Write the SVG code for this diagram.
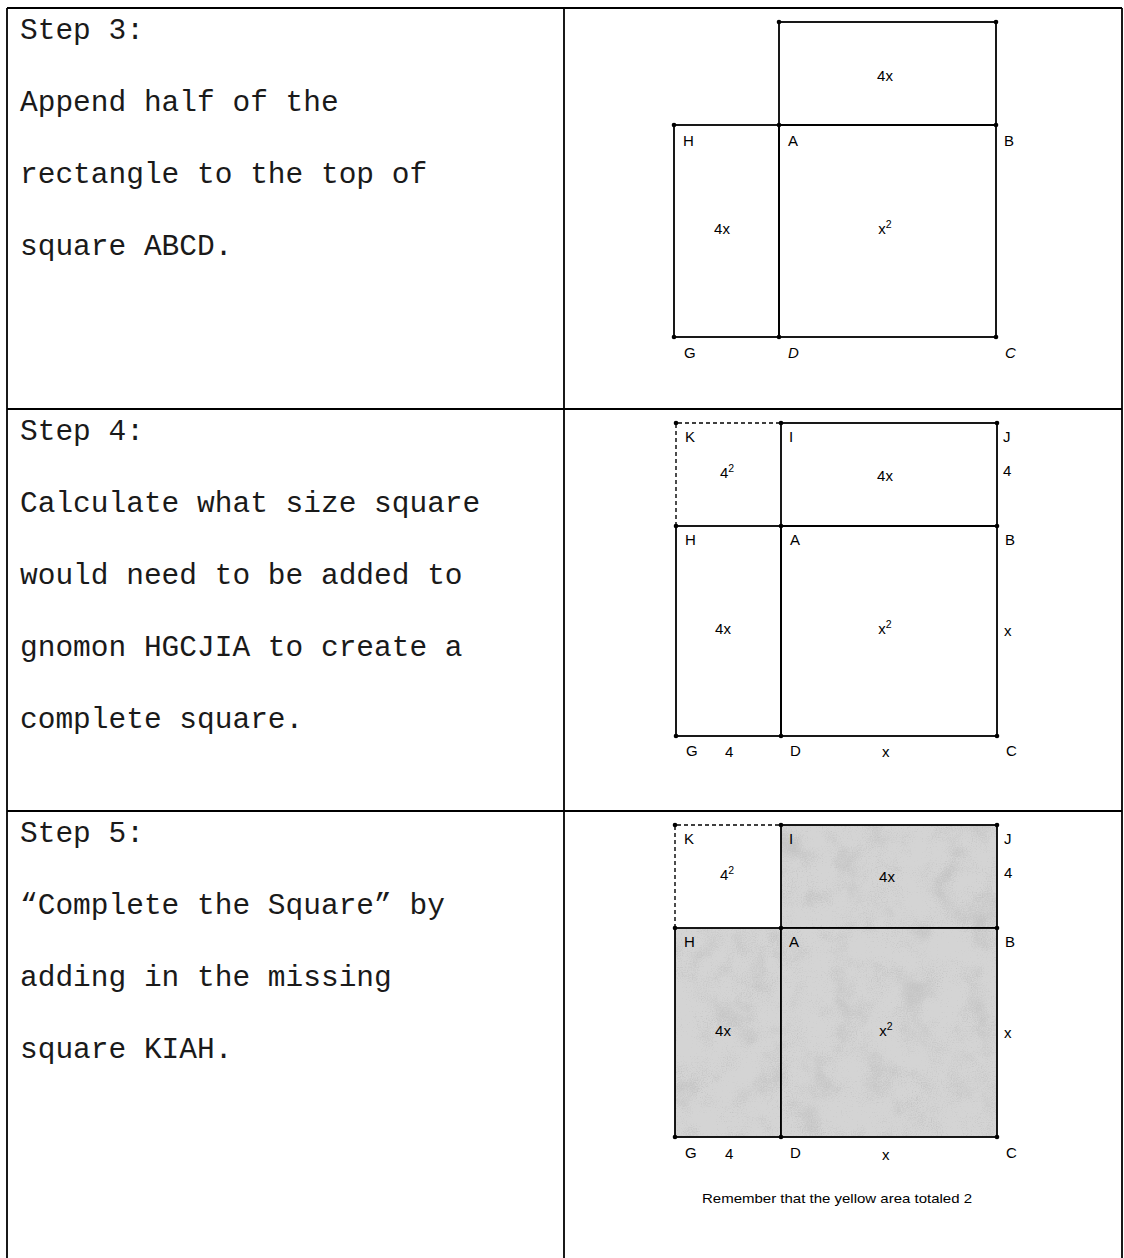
<svg xmlns="http://www.w3.org/2000/svg" width="1124" height="1258" viewBox="0 0 1124 1258">
<style>
.tbl{stroke:#000;stroke-width:1.8;fill:none}
.step{font-family:"Liberation Mono","Courier New",monospace;font-size:29.5px;fill:#1a1a1a}
.edge{stroke:#000;stroke-width:1.8;fill:none}
.dash{stroke:#000;stroke-width:1.4;fill:none;stroke-dasharray:4 3}
.lbl{font-family:"Liberation Sans",Arial,sans-serif;font-size:15px;fill:#000}
.mid{text-anchor:middle}
.sup{font-size:10.5px}
.note{font-family:"Liberation Sans",Arial,sans-serif;font-size:13.5px;fill:#000}
.pt{fill:#000}
</style>
<defs>
<filter id="stip" x="0" y="0" width="100%" height="100%">
<feTurbulence type="fractalNoise" baseFrequency="0.03" numOctaves="3" seed="7" result="n1"/>
<feTurbulence type="fractalNoise" baseFrequency="0.8" numOctaves="1" seed="2" result="n2"/>
<feComposite in="n1" in2="n2" operator="arithmetic" k1="0" k2="0.8" k3="0.7" k4="-0.25" result="n3"/>
<feColorMatrix in="n3" type="matrix" values="0 0 0 0 0.55  0 0 0 0 0.55  0 0 0 0 0.55  2.6 0 0 0 -0.55" result="g"/>
<feComposite in="g" in2="SourceGraphic" operator="in"/>
</filter>
</defs>
<rect width="1124" height="1258" fill="#fff"/>
<g id="table">
<line class="tbl" x1="7" y1="8" x2="1122" y2="8"/>
<line class="tbl" x1="7" y1="8" x2="7" y2="1258"/>
<line class="tbl" x1="564" y1="8" x2="564" y2="1258"/>
<line class="tbl" x1="1122" y1="8" x2="1122" y2="1258"/>
<line class="tbl" x1="7" y1="409" x2="1122" y2="409"/>
<line class="tbl" x1="7" y1="811" x2="1122" y2="811"/>
</g>
<g id="step3-text" class="step">
<text x="20" y="39">Step 3:</text>
<text x="20" y="111">Append half of the</text>
<text x="20" y="183">rectangle to the top of</text>
<text x="20" y="255">square ABCD.</text>
</g>
<g id="step4-text" class="step">
<text x="20" y="440">Step 4:</text>
<text x="20" y="512">Calculate what size square</text>
<text x="20" y="584">would need to be added to</text>
<text x="20" y="656">gnomon HGCJIA to create a</text>
<text x="20" y="728">complete square.</text>
</g>
<g id="step5-text" class="step">
<text x="20" y="842">Step 5:</text>
<text x="20" y="914">“Complete the Square” by</text>
<text x="20" y="986">adding in the missing</text>
<text x="20" y="1058">square KIAH.</text>
</g>
<g id="step3-diagram">
<g id="s3-rect-top"><rect class="edge" x="779" y="22" width="217" height="103"/><text class="lbl mid" x="885" y="81">4x</text></g>
<g id="s3-rect-left"><rect class="edge" x="674" y="125" width="105" height="212"/><text class="lbl mid" x="722" y="234">4x</text></g>
<g id="s3-square"><rect class="edge" x="779" y="125" width="217" height="212"/><text class="lbl mid" x="885" y="234">x<tspan class="sup" dy="-6">2</tspan></text></g>
<g id="s3-points" class="pt">
<circle cx="779" cy="22" r="2.3"/><circle cx="996" cy="22" r="2.3"/>
<circle cx="674" cy="125" r="2.3"/><circle cx="779" cy="125" r="2.3"/><circle cx="996" cy="125" r="2.3"/>
<circle cx="674" cy="337" r="2.3"/><circle cx="779" cy="337" r="2.3"/><circle cx="996" cy="337" r="2.3"/>
</g>
<g id="s3-labels" class="lbl">
<text x="683" y="146">H</text><text x="788" y="146">A</text><text x="1004" y="146">B</text>
<text x="684" y="358">G</text><text x="788" y="358" font-style="italic">D</text><text x="1005" y="358" font-style="italic">C</text>
</g>
</g>
<g id="step4-diagram">
<g id="s4-square-KIAH"><path class="dash" d="M676 526 V423 H781"/><text class="lbl mid" x="727" y="478">4<tspan class="sup" dy="-6">2</tspan></text></g>
<g id="s4-rect-top"><rect class="edge" x="781" y="423" width="216" height="103"/><text class="lbl mid" x="885" y="481">4x</text></g>
<g id="s4-rect-left"><rect class="edge" x="676" y="526" width="105" height="210"/><text class="lbl mid" x="723" y="634">4x</text></g>
<g id="s4-square"><rect class="edge" x="781" y="526" width="216" height="210"/><text class="lbl mid" x="885" y="634">x<tspan class="sup" dy="-6">2</tspan></text></g>
<g id="s4-points" class="pt">
<circle cx="676" cy="423" r="2.3"/><circle cx="781" cy="423" r="2.3"/><circle cx="997" cy="423" r="2.3"/>
<circle cx="676" cy="526" r="2.3"/><circle cx="781" cy="526" r="2.3"/><circle cx="997" cy="526" r="2.3"/>
<circle cx="676" cy="736" r="2.3"/><circle cx="781" cy="736" r="2.3"/><circle cx="997" cy="736" r="2.3"/>
</g>
<g id="s4-labels" class="lbl">
<text x="685" y="442">K</text><text x="789" y="442">I</text><text x="1003" y="442">J</text>
<text x="1003" y="476">4</text>
<text x="685" y="545">H</text><text x="790" y="545">A</text><text x="1005" y="545">B</text>
<text x="1004" y="636">x</text>
<text x="686" y="756">G</text><text x="725" y="757">4</text><text x="790" y="756">D</text><text x="882" y="757">x</text><text x="1006" y="756">C</text>
</g>
</g>
<g id="step5-diagram">
<g id="s5-square-KIAH"><path class="dash" d="M675 928 V825 H781"/><text class="lbl mid" x="727" y="880">4<tspan class="sup" dy="-6">2</tspan></text></g>
<g id="s5-rect-top"><rect x="781" y="825" width="216" height="103" fill="#d4d4d4"/><rect x="781" y="825" width="216" height="103" fill="#fff" filter="url(#stip)"/><rect class="edge" x="781" y="825" width="216" height="103"/><text class="lbl mid" x="887" y="882">4x</text></g>
<g id="s5-rect-left"><rect x="675" y="928" width="106" height="209" fill="#d4d4d4"/><rect x="675" y="928" width="106" height="209" fill="#fff" filter="url(#stip)"/><rect class="edge" x="675" y="928" width="106" height="209"/><text class="lbl mid" x="723" y="1036">4x</text></g>
<g id="s5-square"><rect x="781" y="928" width="216" height="209" fill="#d4d4d4"/><rect x="781" y="928" width="216" height="209" fill="#fff" filter="url(#stip)"/><rect class="edge" x="781" y="928" width="216" height="209"/><text class="lbl mid" x="886" y="1036">x<tspan class="sup" dy="-6">2</tspan></text></g>
<g id="s5-points" class="pt">
<circle cx="675" cy="825" r="2.3"/><circle cx="781" cy="825" r="2.3"/><circle cx="997" cy="825" r="2.3"/>
<circle cx="675" cy="928" r="2.3"/><circle cx="781" cy="928" r="2.3"/><circle cx="997" cy="928" r="2.3"/>
<circle cx="675" cy="1137" r="2.3"/><circle cx="781" cy="1137" r="2.3"/><circle cx="997" cy="1137" r="2.3"/>
</g>
<g id="s5-labels" class="lbl">
<text x="684" y="844">K</text><text x="789" y="844">I</text><text x="1004" y="844">J</text>
<text x="1004" y="878">4</text>
<text x="684" y="947">H</text><text x="789" y="947">A</text><text x="1005" y="947">B</text>
<text x="1004" y="1038">x</text>
<text x="685" y="1158">G</text><text x="725" y="1159">4</text><text x="790" y="1158">D</text><text x="882" y="1160">x</text><text x="1006" y="1158">C</text>
</g>
<text id="s5-note" class="note" x="702" y="1203" textLength="270" lengthAdjust="spacingAndGlyphs">Remember that the yellow area totaled 2</text>
</g>
</svg>
